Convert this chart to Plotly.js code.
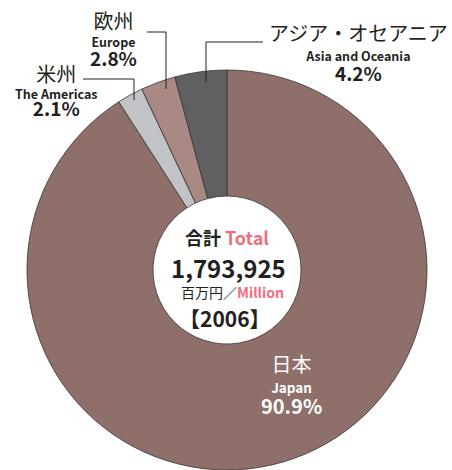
<!DOCTYPE html>
<html><head><meta charset="utf-8">
<script src="https://cdn.plot.ly/plotly-3.0.1.min.js"></script>
<style>body{margin:0;background:#fff}</style>
</head><body><div id="chart" style="width:452px;height:470px"></div>
<script>
const regionsJa = ["日本", "米州", "欧州", "アジア・オセアニア"];
const regionsEn = ["Japan", "The Americas", "Europe", "Asia and Oceania"];
const shares = [90.9, 2.1, 2.8, 4.2];
const sliceColors = ["#8e6f6a", "#c2c3c7", "#a98984", "#606062"];
const totalValue = "1,793,925";
const unitJa = "百万円／";
const unitEn = "Million";
const yearLabel = "【2006】";

const W = 452, H = 470;
const px = x => x / W;
const py = y => 1 - y / H;
const JP = "Noto Sans CJK JP";
const DARK = "#231f20";
const PINK = "#ef6f7f";

const trace = {
  type: "pie",
  labels: regionsEn,
  values: shares,
  sort: false,
  direction: "clockwise",
  rotation: 0,
  hole: 0.37,
  textinfo: "none",
  hoverinfo: "none",
  marker: {colors: sliceColors, line: {color: "#3a3232", width: 0.8}},
  domain: {x: [27 / W, 427 / W], y: [0, 400 / H]},
  showlegend: false
};

function ann(x, y, text, size, color, bold) {
  return {xref: "paper", yref: "paper", x: px(x), y: py(y), xanchor: "center", yanchor: "middle",
    showarrow: false, borderpad: 0, text: bold ? "<b>" + text + "</b>" : text,
    font: {family: JP, size: size, color: color}};
}
const pct = v => v.toFixed(1) + "%";
const sz = (s, t) => "<span style='font-size:" + s + "px'>" + t + "</span>";
function label(i, x, y, base, color, jaSize, enSize, pSize) {
  const a = ann(x, y, sz(jaSize, regionsJa[i]) + "<br>" + sz(enSize, "<b>" + regionsEn[i] + "</b>") +
    "<br>" + sz(pSize, "<b>" + pct(shares[i]) + "</b>"), base, color, false);
  return a;
}

const annotations = [
  ann(227, 237, "<b>合計</b> <span style='color:" + PINK + "'><b>Total</b></span>", 18, DARK, false),
  ann(228, 267, totalValue, 24, DARK, true),
  ann(232, 292, unitJa + "<span style='color:" + PINK + "'><b>" + unitEn + "</b></span>", 14, DARK, false),
  ann(225, 318, yearLabel, 21, DARK, true),
  label(0, 291, 384, 16.2, "#ffffff", 20, 13.5, 20),
  label(1, 56, 90, 13, DARK, 20, 12.5, 19),
  label(2, 113, 38, 14.2, DARK, 20, 12.5, 19),
  label(3, 358, 52, 15.4, DARK, 20, 12.5, 19)
];

const ln = (x0, y0, x1, y1) => ({type: "line", xref: "paper", yref: "paper",
  x0: px(x0), y0: py(y0), x1: px(x1), y1: py(y1), line: {color: DARK, width: 1}});
const shapes = [
  ln(83, 79, 134, 79), ln(134, 79, 134, 100),
  ln(147, 32, 166, 32), ln(166, 32, 166, 89),
  ln(206, 42, 263, 42), ln(206, 42, 206, 82)
];

Plotly.newPlot("chart", [trace], {
  width: W, height: H,
  margin: {l: 0, r: 0, t: 0, b: 0},
  paper_bgcolor: "#ffffff",
  annotations: annotations,
  shapes: shapes
}, {staticPlot: true});
</script></body></html>
